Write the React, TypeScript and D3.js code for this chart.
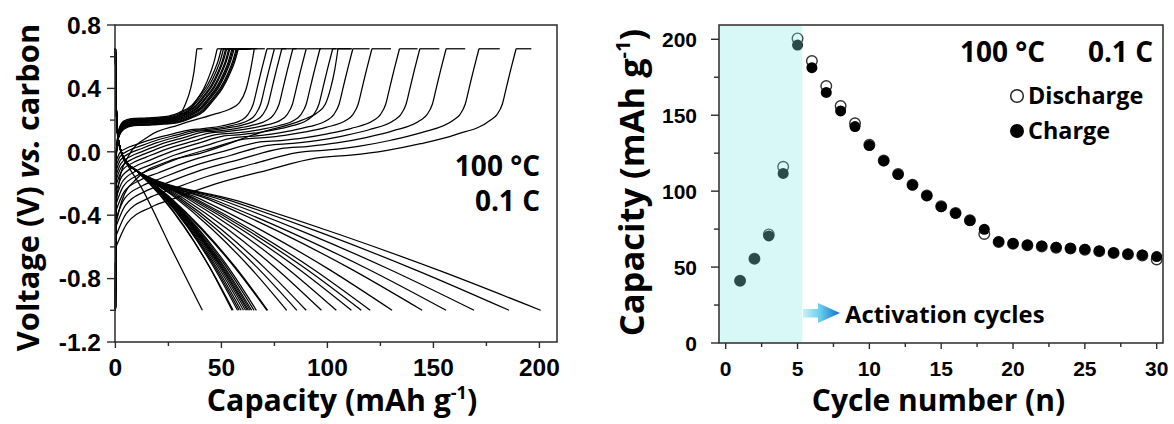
import React from "react";
import * as d3 from "d3";

type P = [number, number];

// ---------------- Right panel data (cycling) ----------------
const cycleNumbers = [1, 2, 3, 4, 5, 6, 7, 8, 9, 10, 11, 12, 13, 14, 15, 16, 17, 18, 19, 20, 21, 22, 23, 24, 25, 26, 27, 28, 29, 30];
const dischargeCapacity = [41, 55.5, 71.5, 116, 200.6, 185.7, 169.2, 156, 144.7, 130.5, 120.2, 111.3, 104.2, 97.2, 90, 85.6, 80.8, 71.8, 66.5, 65.4, 64.3, 63.6, 62.8, 62.2, 61.4, 60.4, 59.3, 58.4, 57.6, 55];
const chargeCapacity = [41, 55.5, 70.5, 111.7, 196.2, 181.3, 165, 152.8, 142.5, 130, 119.9, 111, 104, 97, 89.8, 85.4, 80.6, 74.9, 66.7, 65.6, 64.5, 63.9, 63, 62.4, 61.7, 60.6, 59.5, 58.6, 58, 56.9];

// ---------------- Left panel data (voltage profiles) ----------------
// capacity where each charge curve reaches the 0.65 V cut-off
const chargeRiseEnd = [38.4, 48, 65.5, 105, 189, 171.5, 156, 143.6, 134, 121, 112, 102.5, 96.5, 90, 83.7, 78.5, 75, 71.5, 58, 57.5, 57, 56, 55.5, 55, 54, 53.5, 52.5, 52, 51, 50];
const chargeFamily = ["c1", "plateau", "c3", "c4", "slope", "slope", "slope", "slope", "slope", "slope", "slope", "slope", "slope", "slope", "slope", "slope", "slope", "slope", "plateau", "plateau", "plateau", "plateau", "plateau", "plateau", "plateau", "plateau", "plateau", "plateau", "plateau", "plateau"];
const chargeStartV = [-0.05, -0.02, -0.33, -0.45, -0.6, -0.53, -0.47, -0.42, -0.37, -0.33, -0.29, -0.25, -0.21, -0.18, -0.15, -0.12, -0.09, -0.06, -0.02, -0.02, -0.02, -0.02, -0.02, -0.02, -0.02, -0.02, -0.02, -0.02, -0.02, -0.02];
const chargeMidV = [0.19, 0.17, 0.1, -0.01, -0.04, -0.005, 0.02, 0.04, 0.06, 0.08, 0.09, 0.1, 0.11, 0.12, 0.125, 0.13, 0.135, 0.14, 0.17, 0.174, 0.178, 0.182, 0.186, 0.19, 0.194, 0.198, 0.202, 0.206, 0.21, 0.214];
const dischargeBow = [0, 0.08, 0.07, 0.06, 0.04, 0.045, 0.05, 0.05, 0.055, 0.055, 0.06, 0.06, 0.065, 0.065, 0.07, 0.07, 0.075, 0.075, 0.09, 0.09, 0.09, 0.09, 0.09, 0.09, 0.09, 0.09, 0.09, 0.09, 0.09, 0.09];

// shapes
const cycle1ChargeKnots: P[] = [[0.3, -0.05], [1.5, 0.1], [4, 0.17], [10, 0.19], [25, 0.2], [30, 0.23], [33, 0.3], [35.5, 0.4], [37, 0.5], [38.4, 0.65]];
const cycle3ChargeKnots: P[] = [[0.3, -0.33], [2, -0.17], [6, -0.03], [16, 0.1], [30, 0.17], [46, 0.235], [54, 0.27], [58.5, 0.31], [61.5, 0.39], [63.5, 0.5], [65.5, 0.65]];
const cycle4ChargeKnots: P[] = [[0.3, -0.45], [3, -0.31], [10, -0.17], [25, -0.06], [40, -0.01], [68, 0.12], [88, 0.2], [95, 0.245], [99, 0.3], [101.5, 0.4], [103.5, 0.52], [105, 0.65]];
const cycle1DischargeKnots: P[] = [[0, 0.65], [0.3, 0.3], [1, 0.1], [3, -0.02], [6, -0.09], [12, -0.22], [26, -0.6], [41, -1.0]];

const plateauF = [0.075, 0.15, 0.3, 0.5, 0.62, 0.72, 0.8, 0.87, 0.93, 0.97, 1];
const plateauW = [-0.05, -0.01, 0, 0.025, 0.09, 0.18, 0.33, 0.48, 0.67, 0.83, 1];
const slopeLowF = [0.03, 0.09, 0.15, 0.25, 0.38];
const slopeLowH = [0.73, 0.55, 0.45, 0.29, 0.134];
const slopeHighT = [0.2, 0.4, 0.6, 0.8];
const slopeHighU = [0.08, 0.2, 0.38, 0.62];
const kneeOffset = [12, 9, 6.5, 4.5, 2.5, 0];
const kneeV = [0.2, 0.235, 0.3, 0.41, 0.52, 0.65];
const dischargeStartCap = [0, 0.3, 1, 2.5, 5, 10];
const dischargeStartV = [0.65, 0.35, 0.12, 0.01, -0.06, -0.12];
const bowT = [0.25, 0.5, 0.75];
const bowShape = [0.75, 1, 0.75];

// ticks
const leftXTicks = [0, 50, 100, 150, 200];
const leftXMinor = [25, 75, 125, 175];
const leftYTicks = [0.8, 0.4, 0, -0.4, -0.8, -1.2];
const leftYLabels = ["0.8", "0.4", "0.0", "-0.4", "-0.8", "-1.2"];
const leftYMinor = [0.6, 0.2, -0.2, -0.6, -1.0];
const rightXTicks = [0, 5, 10, 15, 20, 25, 30];
const rightXMinor = [2.5, 7.5, 12.5, 17.5, 22.5, 27.5];
const rightYTicks = [0, 50, 100, 150, 200];
const rightYMinor = [25, 75, 125, 175];

const LX = d3.scaleLinear().domain([0, 208.3]).range([115.4, 557]);
const LY = d3.scaleLinear().domain([-1.2, 0.8]).range([342, 25]);
const RX = d3.scaleLinear().domain([0, 30]).range([725.7, 1156.7]);
const RY = d3.scaleLinear().domain([0, 200]).range([343, 39.3]);

const TITLE = "'Open Sans', sans-serif";
const TICK = "'Liberation Sans', Arial, sans-serif";

function buildCharge(i: number) {
  const fam = chargeFamily[i];
  const Qr = chargeRiseEnd[i];
  const V0 = chargeStartV[i];
  const Vm = chargeMidV[i];
  let body: P[] = [];
  if (fam === "c1") body = cycle1ChargeKnots;
  else if (fam === "c3") body = cycle3ChargeKnots;
  else if (fam === "c4") body = cycle4ChargeKnots;
  else if (fam === "plateau") {
    body = [[0.3, V0], [1.5, Vm - 0.08]];
    plateauF.forEach((f, k) => body.push([f * Qr, Vm + (0.65 - Vm) * plateauW[k]]));
  } else {
    body = [[0.3, V0]];
    slopeLowF.forEach((f, k) => body.push([f * Qr, Vm + (V0 - Vm) * slopeLowH[k]]));
    body.push([0.5 * Qr, Vm]);
    const capK = Qr - kneeOffset[0];
    slopeHighT.forEach((t, k) => body.push([0.5 * Qr + t * (capK - 0.5 * Qr), Vm + (kneeV[0] - Vm) * slopeHighU[k]]));
    kneeOffset.forEach((o, k) => body.push([Qr - o, kneeV[k]]));
  }
  const last = body[body.length - 1];
  return {
    start: [[0, -1.0], body[0]] as P[],
    body,
    end: [[last[0], 0.65], [chargeCapacity[i], 0.65]] as P[],
  };
}

function buildDischarge(i: number): P[] {
  if (i === 0) return cycle1DischargeKnots;
  const Qd = dischargeCapacity[i];
  const b = dischargeBow[i];
  const pts: P[] = dischargeStartCap.map((c, k) => [c, dischargeStartV[k]] as P);
  const c0 = dischargeStartCap[dischargeStartCap.length - 1];
  const v0 = dischargeStartV[dischargeStartV.length - 1];
  bowT.forEach((t, k) => pts.push([c0 + t * (Qd - c0), v0 + t * (-1.0 - v0) + b * bowShape[k]]));
  pts.push([Qd, -1.0]);
  return pts;
}

const curveLine = d3.line<P>().x((d) => LX(d[0])).y((d) => LY(d[1])).curve(d3.curveMonotoneX);
const straightLine = d3.line<P>().x((d) => LX(d[0])).y((d) => LY(d[1]));

const AXIS = "#2b2b2b";

export default function App() {
  const charges = cycleNumbers.map((_, i) => buildCharge(i));
  const discharges = cycleNumbers.map((_, i) => buildDischarge(i));

  return (
    <svg width={1174} height={424} viewBox="0 0 1174 424" style={{ position: "fixed", left: 0, top: 0, background: "#fff" }}>
      <defs>
        <linearGradient id="arrowGrad" x1={803} x2={840} y1={0} y2={0} gradientUnits="userSpaceOnUse">
          <stop offset="0" stopColor="#c9f1f5" />
          <stop offset="0.45" stopColor="#6ccfee" />
          <stop offset="1" stopColor="#0b70d0" />
        </linearGradient>
      </defs>
      <rect x={0} y={0} width={1174} height={424} fill="#fff" />

      {/* ---------- LEFT PANEL ---------- */}
      <g fill="none" stroke="#000" strokeWidth={1.25}>
        {discharges.map((d, i) => (
          <path key={"d" + i} d={curveLine(d) || ""} />
        ))}
        {charges.map((c, i) => (
          <g key={"c" + i}>
            <path d={straightLine(c.start) || ""} />
            <path d={curveLine(c.body) || ""} />
            <path d={straightLine(c.end) || ""} />
          </g>
        ))}
      </g>
      <rect x={115} y={25} width={442} height={317} fill="none" stroke={AXIS} strokeWidth={1.5} />
      <g stroke={AXIS} strokeWidth={1.4}>
        {leftXTicks.map((v) => (
          <line key={"lx" + v} x1={LX(v)} x2={LX(v)} y1={342} y2={348} />
        ))}
        {leftXMinor.map((v) => (
          <line key={"lxm" + v} x1={LX(v)} x2={LX(v)} y1={342} y2={346} />
        ))}
        {leftYTicks.map((v) => (
          <line key={"ly" + v} x1={107} x2={115} y1={LY(v)} y2={LY(v)} />
        ))}
        {leftYMinor.map((v) => (
          <line key={"lym" + v} x1={110} x2={115} y1={LY(v)} y2={LY(v)} />
        ))}
      </g>
      <g fontFamily={TICK} fontWeight={700} fontSize={24.5} fill="#000">
        {leftXTicks.map((v) => (
          <text key={"lxt" + v} x={LX(v)} y={376} textAnchor="middle">{v}</text>
        ))}
        {leftYTicks.map((v, k) => (
          <text key={"lyt" + v} x={101} y={LY(v) + 8.7} textAnchor="end">{leftYLabels[k]}</text>
        ))}
      </g>
      <g fontFamily={TITLE} fontWeight={700} fill="#000">
        <text x={342} y={411} fontSize={30.3} textAnchor="middle">
          Capacity (mAh g<tspan dy={-12} fontSize={18}>-1</tspan><tspan dy={12}>)</tspan>
        </text>
        <text transform="translate(39,187.5) rotate(-90)" fontSize={30.8} textAnchor="middle">
          Voltage (V) <tspan fontStyle="italic">vs.</tspan> carbon
        </text>
        <text x={540} y={176} fontSize={28} textAnchor="end">100 °C</text>
        <text x={540} y={211} fontSize={28} textAnchor="end">0.1 C</text>
      </g>

      {/* ---------- RIGHT PANEL ---------- */}
      <g>
        {cycleNumbers.map((n, i) => (
          <circle key={"o" + n} cx={RX(n)} cy={RY(dischargeCapacity[i])} r={5.3} fill="#fff" stroke="#333" strokeWidth={1.4} />
        ))}
        {cycleNumbers.map((n, i) => (
          <circle key={"f" + n} cx={RX(n)} cy={RY(chargeCapacity[i])} r={5.5} fill="#000" />
        ))}
      </g>
      <rect x={719} y={25} width={RX(5.33) - 719} height={318} fill="rgb(134,231,231)" opacity={0.32} />
      <rect x={719} y={25} width={444} height={318} fill="none" stroke={AXIS} strokeWidth={1.5} />
      <g stroke={AXIS} strokeWidth={1.4}>
        {rightXTicks.map((v) => (
          <line key={"rx" + v} x1={RX(v)} x2={RX(v)} y1={343} y2={349} />
        ))}
        {rightXMinor.map((v) => (
          <line key={"rxm" + v} x1={RX(v)} x2={RX(v)} y1={343} y2={347} />
        ))}
        {rightYTicks.map((v) => (
          <line key={"ry" + v} x1={711} x2={719} y1={RY(v)} y2={RY(v)} />
        ))}
        {rightYMinor.map((v) => (
          <line key={"rym" + v} x1={714} x2={719} y1={RY(v)} y2={RY(v)} />
        ))}
      </g>
      <g fontFamily={TICK} fontWeight={700} fontSize={21} fill="#000">
        {rightXTicks.map((v) => (
          <text key={"rxt" + v} x={RX(v)} y={376} textAnchor="middle">{v}</text>
        ))}
        {rightYTicks.map((v) => (
          <text key={"ryt" + v} x={697} y={RY(v) + 7.5} textAnchor="end">{v}</text>
        ))}
      </g>
      <g fontFamily={TITLE} fontWeight={700} fill="#000">
        <text x={938.5} y={411} fontSize={30} textAnchor="middle">Cycle number (n)</text>
        <text transform="translate(644,182.5) rotate(-90)" fontSize={34.5} textAnchor="middle">
          Capacity (mAh g<tspan dy={-14} fontSize={20}>-1</tspan><tspan dy={14}>)</tspan>
        </text>
        <text x={960} y={61.5} fontSize={28}>100 °C</text>
        <text x={1153} y={61.5} fontSize={28} textAnchor="end">0.1 C</text>
        <text x={1028} y={104} fontSize={23.4}>Discharge</text>
        <text x={1028} y={138.5} fontSize={23.4}>Charge</text>
        <text x={845} y={322.5} fontSize={23.8}>Activation cycles</text>
      </g>
      <circle cx={1017} cy={96} r={6.3} fill="#fff" stroke="#222" strokeWidth={1.5} />
      <circle cx={1017} cy={131} r={7} fill="#000" />
      <rect x={803} y={309} width={16} height={8.5} fill="url(#arrowGrad)" />
      <polygon points="818,303 840,313 818,323" fill="url(#arrowGrad)" />
    </svg>
  );
}
